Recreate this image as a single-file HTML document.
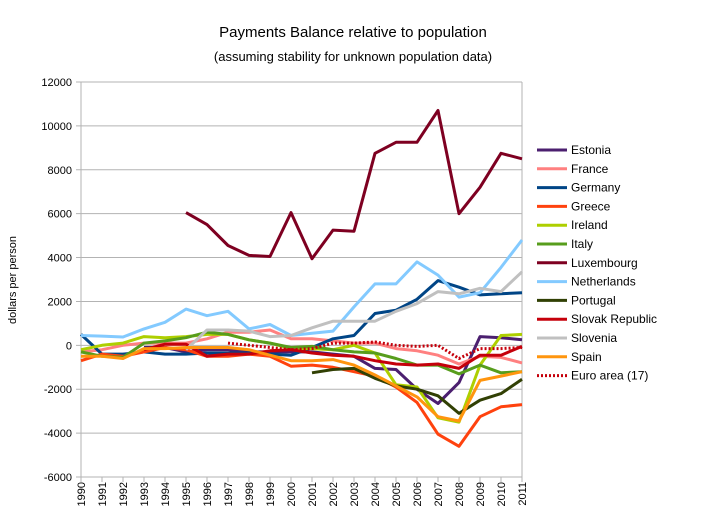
<!DOCTYPE html>
<html><head><meta charset="utf-8"><style>
body{margin:0;background:#fff;font-family:"Liberation Sans",sans-serif}
svg text{font-family:"Liberation Sans",sans-serif}
</style></head><body>
<svg id="c" width="709" height="527">
<text x="353" y="37" text-anchor="middle" font-size="15">Payments Balance relative to population</text>
<text x="353" y="61" text-anchor="middle" font-size="13">(assuming stability for unknown population data)</text>
<text transform="translate(16,280) rotate(-90)" text-anchor="middle" font-size="11">dollars per person</text>
<g id="grid"></g><g id="series"></g><g id="legend"></g>
</svg>
<script>
const years=[1990,1991,1992,1993,1994,1995,1996,1997,1998,1999,2000,2001,2002,2003,2004,2005,2006,2007,2008,2009,2010,2011];
const yTicks=[12000,10000,8000,6000,4000,2000,0,-2000,-4000,-6000];
const names=["Estonia","France","Germany","Greece","Ireland","Italy","Luxembourg","Netherlands","Portugal","Slovak Republic","Slovenia","Spain","Euro area (17)"];
const colors=["#4b1f6f","#ff8080","#004586","#ff420e","#aecf00","#579d1c","#7e0021","#83caff","#314004","#c5000b","#c0c0c0","#ff950e","#c5000b"];
const N=null;
const estonia=[N,N,N,-100,-100,-300,-200,-200,-300,-300,-300,-300,-400,-500,-1050,-1100,-2000,-2650,-1700,400,350,250];
const france=[-300,-200,0,100,100,100,300,600,600,700,300,300,200,100,100,-150,-250,-450,-850,-500,-550,-800];
const germany=[500,-400,-400,-300,-400,-400,-350,-350,-350,-400,-450,-100,300,450,1450,1600,2100,2950,2650,2300,2350,2400];
const greece=[-700,-400,-500,-300,-100,-200,-500,-500,-400,-500,-950,-900,-1000,-1200,-1400,-1900,-2600,-4050,-4600,-3250,-2800,-2700];
const ireland=[-200,0,100,400,350,400,500,500,250,100,-150,-150,-200,0,-350,-1800,-1900,-3300,-3500,-900,450,500];
const italy=[-300,-500,-550,100,200,350,600,500,250,100,-100,-50,-200,-300,-350,-600,-900,-900,-1300,-900,-1250,-1200];
const luxembourg=[N,N,N,N,N,6050,5500,4550,4100,4050,6050,3950,5250,5200,8750,9250,9250,10700,6000,7200,8750,8500];
const netherlands=[450,420,380,750,1050,1650,1350,1550,750,950,450,550,650,1750,2800,2800,3800,3200,2200,2400,3550,4800];
const portugal=[N,N,N,N,N,N,N,N,N,N,N,-1250,-1100,-1050,-1500,-1850,-2000,-2300,-3100,-2500,-2200,-1550];
const slovak=[N,N,N,-200,50,50,-500,-400,-400,-250,-200,-350,-450,-500,-700,-850,-900,-850,-1050,-450,-450,-50];
const slovenia=[N,N,N,N,N,-200,700,700,650,400,450,800,1100,1100,1100,1550,1900,2450,2350,2600,2450,3350];
const spain=[-500,-500,-600,-150,-150,-100,-100,-100,-200,-450,-700,-700,-650,-900,-1350,-1850,-2350,-3250,-3450,-1600,-1400,-1200];
const euro=[N,N,N,N,N,N,N,100,0,-100,-200,-150,100,100,150,0,-50,0,-600,-150,-150,-100];
const data=[estonia,france,germany,greece,ireland,italy,luxembourg,netherlands,portugal,slovak,slovenia,spain,euro];
const X0=81,X1=522,Y0=477,Y1=82;
const xs=i=>X0+(X1-X0)*i/(years.length-1);
const ys=v=>Y0-(v+6000)/18000*(Y0-Y1);
const NS="http://www.w3.org/2000/svg";
function mk(t,a,p){const e=document.createElementNS(NS,t);for(const k in a)e.setAttribute(k,a[k]);p.appendChild(e);return e;}
const g=document.getElementById('grid');
yTicks.forEach(v=>{
 const l=mk('line',{x1:X0-5,x2:X1,y1:ys(v),y2:ys(v),stroke:'#b3b3b3','stroke-width':1},g);
 
 
 const t=mk('text',{x:X0-9,y:ys(v)+4,'text-anchor':'end','font-size':11},g);t.textContent=v;
 
 
});
mk('line',{x1:X0,x2:X0,y1:Y1,y2:Y0,stroke:'#b3b3b3'},g);
mk('line',{x1:X1,x2:X1,y1:Y1,y2:Y0,stroke:'#b3b3b3'},g);
years.forEach((y,i)=>{
 mk('line',{x1:xs(i),x2:xs(i),y1:Y0,y2:Y0+5,stroke:'#b3b3b3'},g);
 const t=mk('text',{transform:`translate(${xs(i)+4},${Y0+5}) rotate(-90)`,'text-anchor':'end','font-size':11},g);t.textContent=y;
 
 
});
const s=document.getElementById('series'),lg=document.getElementById('legend');
data.forEach((arr,k)=>{
 let d='',pen=false;
 arr.forEach((v,i)=>{if(v===null){pen=false;return;}d+=(pen?'L':'M')+xs(i).toFixed(1)+','+ys(v).toFixed(1);pen=true;});
 const dash=k===12?{'stroke-dasharray':'2,2'}:{};
 const p=mk('path',Object.assign({d:d,fill:'none',stroke:colors[k],'stroke-width':3,'stroke-linejoin':'round'},dash),s);
 
 
 const ly=150+k*18.8;
 const gg=mk('g',{},lg);
 
 
 mk('line',Object.assign({x1:537,x2:567,y1:ly,y2:ly,stroke:colors[k],'stroke-width':3},dash),gg);
 const t=mk('text',{x:571,y:ly+4,'font-size':12},gg);t.textContent=names[k];
});
</script>
</body></html>
